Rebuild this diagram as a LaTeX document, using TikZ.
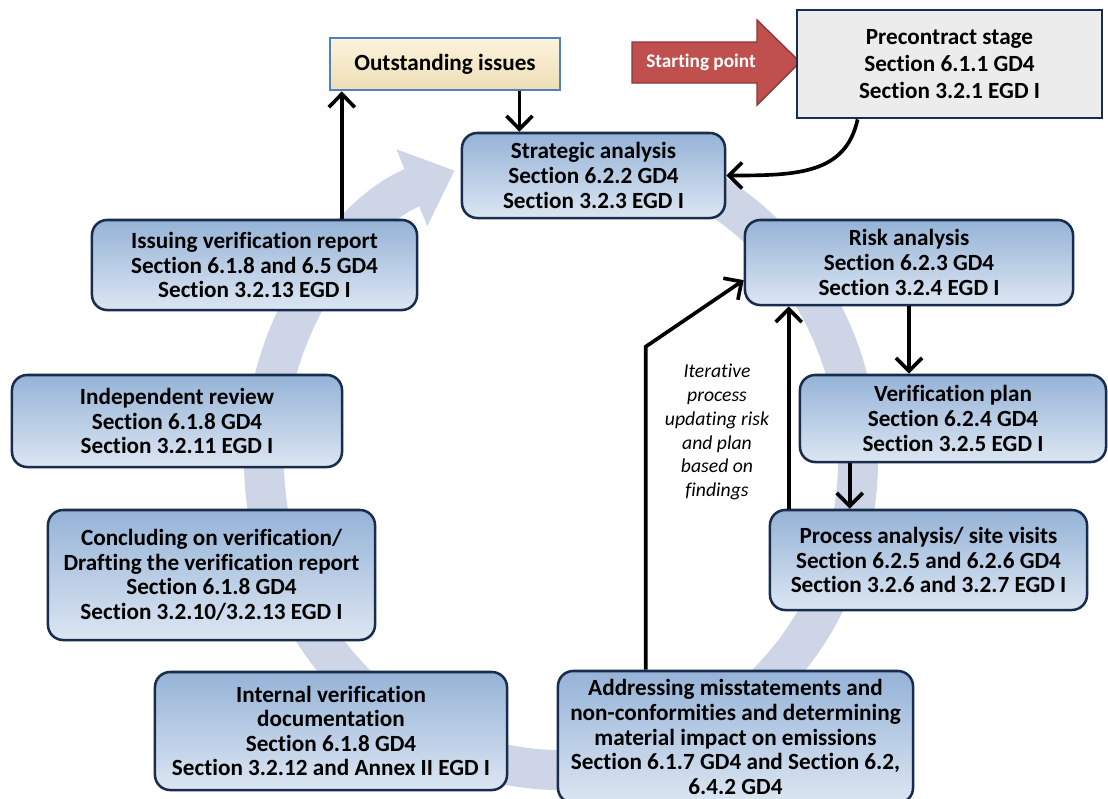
\documentclass[tikz,border=0pt]{standalone}
\usepackage{fontspec}
\setmainfont[Ligatures=NoCommon]{Carlito}
\usetikzlibrary{arrows.meta}
\definecolor{ringblue}{RGB}{205,213,230}
\definecolor{boxtop}{RGB}{149,179,215}
\definecolor{boxbot}{RGB}{220,230,242}
\definecolor{boxline}{RGB}{23,45,75}
\definecolor{startred}{RGB}{192,80,77}
\definecolor{startline}{RGB}{140,56,54}
\definecolor{issuetop}{RGB}{253,243,220}
\definecolor{issuebot}{RGB}{238,222,182}
\definecolor{issueline}{RGB}{79,129,189}
\definecolor{paper}{RGB}{236,236,236}

\begin{document}
\begin{tikzpicture}[x=0.025cm, y=-0.025cm,
  every node/.style={font=\bfseries\fontsize{16.5}{17.5}\selectfont, align=center, inner sep=0pt},
  stage/.style={draw=boxline, line width=1.8pt, rounded corners=0.38cm, top color=boxtop, bottom color=boxbot},
  outbox/.style={draw=issueline, line width=2pt, top color=issuetop, bottom color=issuebot},
  prebox/.style={draw=boxline, line width=2pt, fill=paper, font=\bfseries\fontsize{16.5}{19.2}\selectfont},
  arr/.style={line width=2.6pt, -{Straight Barb[length=0.33cm, width=0.65cm]}}]
  \useasboundingbox (0,0) rectangle (1108,798);
  \clip (0,0) rectangle (1108,798);
  \fill[white] (0,0) rectangle (1108,798);

  % background cycle
  \draw[ringblue, line width=1cm, -{Triangle[length=1.15cm, width=2cm]}]
    (561,460) ++(-80:297 and 310) arc[start angle=-80, end angle=249, x radius=297, y radius=310];

  % starting point
  \draw[fill=startred, draw=startline, line width=1pt]
    (632,42) -- (757,42) -- (757,20) -- (800,62) -- (757,105) -- (757,83) -- (632,83) -- cycle;
  \node[text=white, font=\bfseries\fontsize{13.7}{15}\selectfont] (startpt) at (701,62) {Starting point};

  \node[outbox, minimum width=5.75cm, minimum height=1.3cm] (outst) at (445,64) {Outstanding issues};
  \node[prebox, minimum width=7.625cm, minimum height=2.7cm] (pre) at (949.5,64)
    {Precontract stage\\Section 6.1.1 GD4\\Section 3.2.1 EGD I};

  \node[stage, minimum width=6.575cm, minimum height=2.125cm] (strat) at (593.5,175.5)
    {Strategic analysis\\Section 6.2.2 GD4\\Section 3.2.3 EGD I};
  \node[stage, minimum width=8.2cm, minimum height=2.125cm] (risk) at (909,262.5)
    {Risk analysis\\Section 6.2.3 GD4\\Section 3.2.4 EGD I};
  \node[stage, minimum width=7.65cm, minimum height=2.175cm] (plan) at (953,418.5)
    {Verification plan\\Section 6.2.4 GD4\\Section 3.2.5 EGD I};
  \node[stage, minimum width=7.925cm, minimum height=2.5cm] (proc) at (928.5,560)
    {Process analysis/ site visits\\Section 6.2.5 and 6.2.6 GD4\\Section 3.2.6 and 3.2.7 EGD I};
  \node[stage, minimum width=8.875cm, minimum height=3.3cm] (addr) at (735.5,737)
    {Addressing misstatements and\\non-conformities and determining\\material impact on emissions\\Section 6.1.7 GD4 and Section 6.2,\\6.4.2 GD4};
  \node[stage, minimum width=8.8cm, minimum height=2.95cm] (intdoc) at (331,731)
    {Internal verification\\documentation\\Section 6.1.8 GD4\\Section 3.2.12 and Annex II EGD I};
  \node[stage, minimum width=8.175cm, minimum height=3.25cm] (concl) at (211.5,575)
    {Concluding on verification/\\Drafting the verification report\\Section 6.1.8 GD4\\Section 3.2.10/3.2.13 EGD I};
  \node[stage, minimum width=8.25cm, minimum height=2.3cm] (indep) at (177,421)
    {Independent review\\Section 6.1.8 GD4\\Section 3.2.11 EGD I};
  \node[stage, minimum width=8.125cm, minimum height=2.25cm] (issue) at (254.5,265)
    {Issuing verification report\\Section 6.1.8 and 6.5 GD4\\Section 3.2.13 EGD I};

  \node[font=\itshape\fontsize{14}{17}\selectfont] (note) at (717,432)
    {Iterative\\process\\updating risk\\and plan\\based on\\findings};

  % connectors
  \coordinate (upx) at ([xshift=0.33cm]outst.south west);
  \coordinate (downx) at ([xshift=-1.05cm]outst.south east);
  \coordinate (prex) at ([xshift=1.55cm]pre.south west);
  \coordinate (planx) at ([xshift=1.275cm]plan.south west);
  \coordinate (backx) at ([xshift=0.5cm]proc.north west);
  \coordinate (iterx) at ([xshift=2.225cm]addr.north west);
  \coordinate (bend) at ([yshift=8.075cm]iterx);

  \draw[arr] (upx |- issue.north) -- (upx);
  \draw[arr] (downx) -- (downx |- strat.north);
  \draw[arr] (prex) .. controls +(-12,55) and +(70,0) .. (strat.east);
  \draw[arr] (risk.south) -- (risk.south |- plan.north);
  \draw[arr] (planx) -- (planx |- proc.north);
  \draw[arr] (backx) -- (backx |- risk.south);
  \draw[arr] (iterx) -- (bend) -- ([yshift=-0.44cm]risk.west);
\end{tikzpicture}
\end{document}
